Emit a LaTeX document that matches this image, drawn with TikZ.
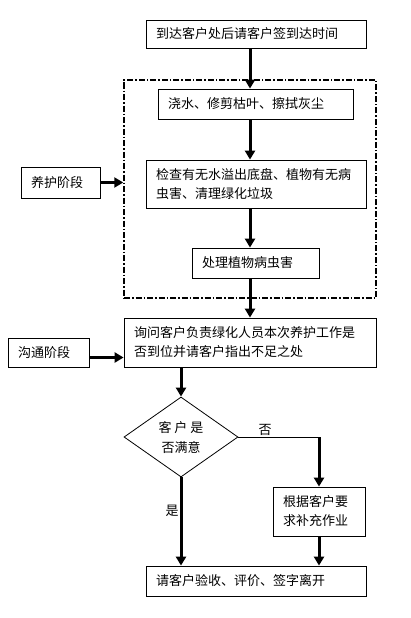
\documentclass[tikz,border=0pt]{standalone}
\usepackage{fontspec}
\newfontfamily\cjk{Noto Sans CJK SC}
\usetikzlibrary{arrows.meta}
\usetikzlibrary{shapes.geometric}

\tikzset{
  box/.style={draw, line width=0.8pt, inner xsep=10pt, inner ysep=0pt, align=left},
  arr/.style={line width=3pt, -{Triangle[width=10pt, length=9pt]}},
  frame/.style={draw, line width=1.5pt, dash pattern=on 6pt off 2pt on 1.5pt off 2pt, inner sep=0pt},
}

\begin{document}
\begin{tikzpicture}[x=1pt, y=1pt, every node/.style={font=\cjk\fontsize{13}{19}\selectfont}]
    \useasboundingbox (0,0) rectangle (410,-618);

    \node[frame, minimum width=252pt, minimum height=218pt] (0) at (250,-189) {};

    \node[box, text width=200pt, minimum height=28pt] (1) at (256,-34) {到达客户处后请客户签到达时间};
    \node[box, text width=175pt, minimum height=30pt] (2) at (255.5,-104) {浇水、修剪枯叶、擦拭灰尘};
    \node[box, text width=200pt, minimum height=48pt] (3) at (256,-184) {检查有无水溢出底盘、植物有无病\\虫害、清理绿化垃圾};
    \node[box, text width=107pt, minimum height=30pt] (4) at (255.5,-263) {处理植物病虫害};
    \node[box, text width=232pt, minimum height=49pt] (5) at (250,-342.5) {询问客户负责绿化人员本次养护工作是\\否到位并请客户指出不足之处};
    \node[draw, line width=0.8pt, diamond, aspect=1.425, minimum width=114pt, minimum height=80pt, inner sep=0pt, align=center, font=\cjk\fontsize{13}{20}\selectfont] (6) at (181,-437) {客\hspace{3pt}户\hspace{3pt}是\\否满意};
    \node[box, text width=72pt, minimum height=49pt] (7) at (319,-511.5) {根据客户要\\求补充作业};
    \node[box, text width=200pt, minimum height=30pt] (8) at (256,-581) {请客户验收、评价、签字离开};

    \node[box, text width=59pt, minimum height=31pt] (9) at (60.5,-182.5) {养护阶段};
    \node[box, text width=61pt, minimum height=29pt] (10) at (48.5,-352.5) {沟通阶段};

    \draw[arr] (1.south -| 0) -- (2.north -| 0);
    \draw[arr] (2.south -| 0) -- (3.north -| 0);
    \draw[arr] (3.south -| 0) -- (4.north -| 0);
    \draw[arr] (4.south -| 0) -- (5.north -| 0);
    \draw[arr] (6.north |- 5.south) -- (6);
    \draw[line width=0.8pt] (6.east) -- node[above, pos=0.33, inner sep=1pt] {否} (6.east -| 7.north);
    \draw[arr] (6.east -| 7.north) -- (7);
    \draw[arr] (7) -- (7.south |- 8.north);
    \draw[arr] (6) -- node[left, pos=0.38, inner sep=1pt] {是} (6.south |- 8.north);
    \draw[arr] (9) -- (9.east -| 0.west);
    \draw[arr] ([yshift=-5pt]10.east) -- ([yshift=-5pt]10.east -| 5.west);
\end{tikzpicture}
\end{document}
